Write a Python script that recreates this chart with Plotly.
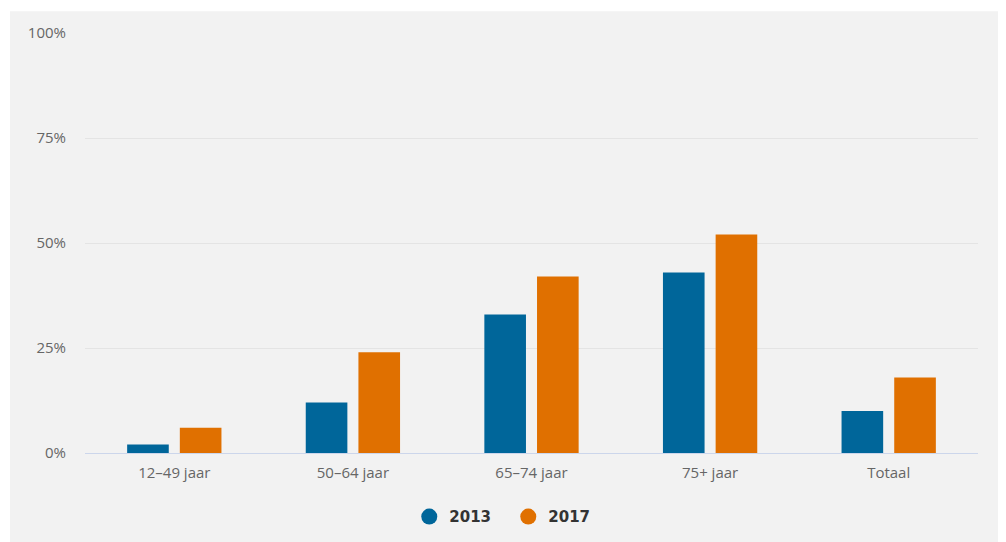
import plotly.graph_objects as go

categories = ["12–49 jaar", "50–64 jaar", "65–74 jaar", "75+ jaar", "Totaal"]
values_2013 = [2, 12, 33, 43, 10]
values_2017 = [6, 24, 42, 52, 18]
series_names = ["2013", "2017"]
colors = ["#00669a", "#e07000"]
y_ticks = [0, 25, 50, 75, 100]
y_tick_labels = ["0%", "25%", "50%", "75%", "100%"]

fig = go.Figure()
for name, vals, col in zip(series_names, [values_2013, values_2017], colors):
    fig.add_trace(go.Bar(x=categories, y=vals, name=name, marker_color=col,
                         marker_line_width=0, showlegend=False))
# legend entries with circular symbols
for name, col in zip(series_names, colors):
    fig.add_trace(go.Scatter(x=[None], y=[None], mode="markers", name=name,
                             marker=dict(symbol="circle", size=16, color=col)))

fig.update_layout(
    width=998, height=534,
    margin=dict(l=77, r=28, t=25, b=89, autoexpand=False),
    paper_bgcolor="#f2f2f2", plot_bgcolor="#f2f2f2",
    barmode="group", bargap=0.41, bargroupgap=0.21,
    font=dict(family="Open Sans, sans-serif", color="#666666", size=15),
    legend=dict(orientation="h", x=0.474, xanchor="center", y=-0.152, yanchor="middle",
                entrywidth=54,
                font=dict(family="DejaVu Sans, sans-serif", size=15, color="#333333", weight="bold"),
                itemsizing="trace", bgcolor="rgba(0,0,0,0)"),
    shapes=[
        dict(type="rect", xref="paper", yref="paper", x0=-0.2, x1=1.2, y0=1.052, y1=1.2,
             fillcolor="white", line_width=0, layer="below"),
        dict(type="rect", xref="paper", yref="paper", x0=-0.2, x1=-0.084, y0=-0.5, y1=1.2,
             fillcolor="white", line_width=0, layer="below"),
    ],
)
fig.update_yaxes(range=[0, 100], tickvals=y_ticks, ticktext=y_tick_labels,
                 showgrid=True, gridcolor="#e4e4e4", gridwidth=1, zeroline=False,
                 showline=False, ticks="", ticklabelstandoff=18, automargin=False,
                 tickfont=dict(size=15, color="#666666"))
fig.update_xaxes(showgrid=False, showline=True, linecolor="#ccd6eb", linewidth=1,
                 ticks="", ticklabelstandoff=6, automargin=False,
                 tickfont=dict(size=15, color="#666666"))

fig.write_html("out.html")
